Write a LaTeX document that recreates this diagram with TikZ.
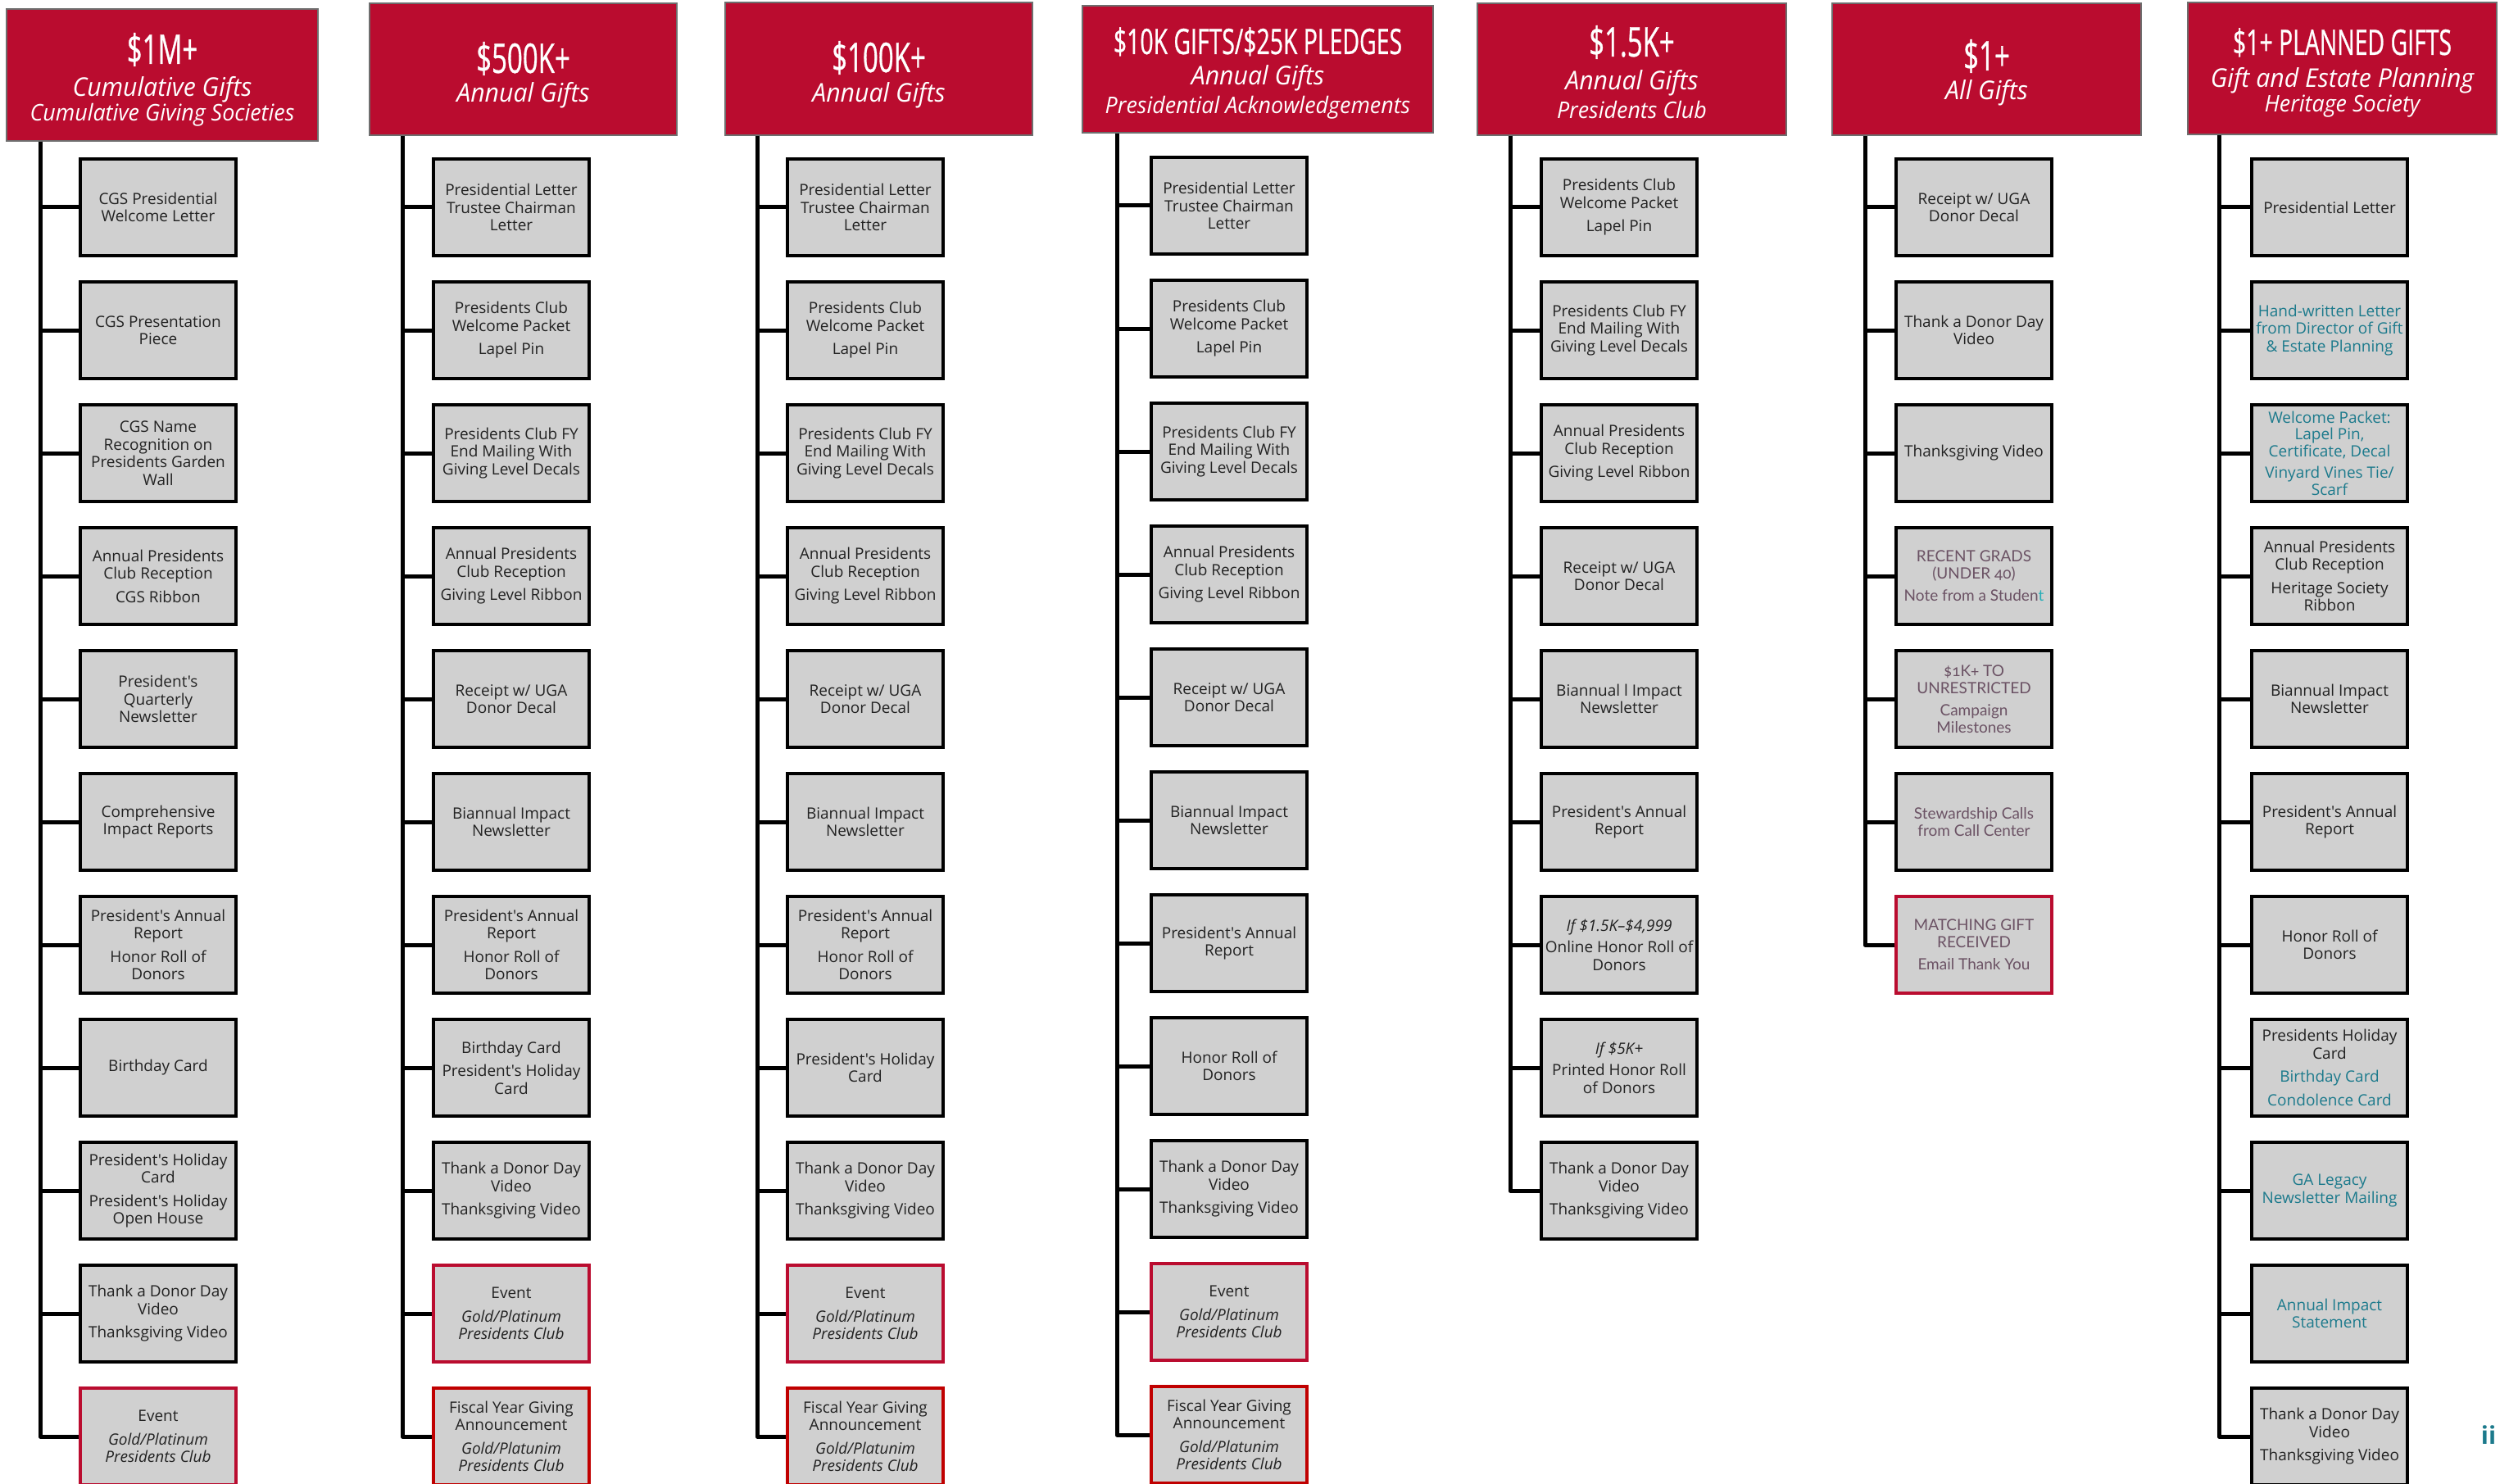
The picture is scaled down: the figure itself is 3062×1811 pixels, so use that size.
\documentclass[tikz,border=0pt]{standalone}
\usepackage{fontspec}
\setmainfont{Open Sans}[Ligatures=TeXOff]
\newfontfamily\bigfont[FakeStretch=0.66, FakeBold=0.6]{Open Sans}
\newfontfamily\hitfont[FakeStretch=0.96]{Open Sans}
\newfontfamily\latofont[Numbers=OldStyle, Ligatures=TeXOff]{Lato}
\definecolor{ugared}{HTML}{BA0C2F}
\definecolor{fyred}{HTML}{C00000}
\definecolor{hdredge}{HTML}{6E6E6E}
\definecolor{boxgray}{HTML}{D0D0D0}
\definecolor{boxtext}{HTML}{222222}
\definecolor{tealtx}{HTML}{1C7A8C}
\definecolor{tealt}{HTML}{27AEB8}
\definecolor{mauve}{HTML}{6B5264}
\newcommand\boxfont{\fontsize{19}{21.5}\selectfont}
\newcommand\latobox{\latofont\fontsize{19}{20.5}\selectfont}
\tikzset{
  item/.style={draw=black, line width=3.5pt, fill=boxgray, minimum width=190pt,
    minimum height=118pt, inner sep=1pt, align=center, text=boxtext, font=\boxfont},
  reditem/.style={item, draw=ugared},
  fyitem/.style={item, draw=fyred},
  tealitem/.style={item, text=tealtx},
  mauveitem/.style={item, text=mauve, font=\latobox},
  hdr/.style={fill=ugared, draw=hdredge, line width=1.2pt, inner sep=0pt},
  hbig/.style={text=white, anchor=base, inner sep=0pt, font=\bigfont\fontsize{50}{50}\selectfont},
  hbigs/.style={text=white, anchor=base, inner sep=0pt, font=\bigfont\fontsize{43}{43}\selectfont},
  hsub/.style={text=white, anchor=base, inner sep=0pt, font=\hitfont\itshape\fontsize{31.5}{31.5}\selectfont},
  hsubs/.style={text=white, anchor=base, inner sep=0pt, font=\hitfont\itshape\fontsize{28}{28}\selectfont},
  trunk/.style={line width=5pt, line join=round, draw=black},
  branch/.style={line width=5pt, draw=black},
}
\begin{document}
\begin{tikzpicture}[x=1pt, y=-1pt]
\useasboundingbox (0,0) rectangle (3062,1811);
\clip (0,0) rectangle (3062,1811);

% ---------------- headers ----------------
\node[hdr, minimum width=380pt, minimum height=161pt] (h1) at (198,91.5) {};
\node[hbig] (h1a) at (198,78) {\$1M+};
\node[hsub] (h1b) at (198,118) {Cumulative Gifts};
\node[hsubs] (h1c) at (198,148) {Cumulative Giving Societies};

\node[hdr, minimum width=375pt, minimum height=161pt] (h2) at (638.5,84.5) {};
\node[hbig] (h2a) at (638.5,89) {\$500K+};
\node[hsub] (h2b) at (638.5,125) {Annual Gifts};

\node[hdr, minimum width=375pt, minimum height=162pt] (h3) at (1072.5,84) {};
\node[hbig] (h3a) at (1072.5,88) {\$100K+};
\node[hsub] (h3b) at (1072.5,125) {Annual Gifts};

\node[hdr, minimum width=428pt, minimum height=155pt] (h4) at (1535,84.5) {};
\node[hbigs] (h4a) at (1535,66) {\$10K GIFTS/\$25K PLEDGES};
\node[hsub] (h4b) at (1535,104) {Annual Gifts};
\node[hsubs] (h4c) at (1535,139) {Presidential Acknowledgements};

\node[hdr, minimum width=377pt, minimum height=161pt] (h5) at (1991.5,84.5) {};
\node[hbig] (h5a) at (1991.5,69) {\$1.5K+};
\node[hsub] (h5b) at (1991.5,110) {Annual Gifts};
\node[hsubs] (h5c) at (1991.5,145) {Presidents Club};

\node[hdr, minimum width=377pt, minimum height=161pt] (h6) at (2424.5,84.5) {};
\node[hbig] (h6a) at (2424.5,86) {\$1+};
\node[hsub] (h6b) at (2424.5,122) {All Gifts};

\node[hdr, minimum width=377pt, minimum height=161pt] (h7) at (2858.5,83.5) {};
\node[hbigs] (h7a) at (2858.5,67) {\$1+ PLANNED GIFTS};
\node[hsub] (h7b) at (2858.5,107) {Gift and Estate Planning};
\node[hsubs] (h7c) at (2858.5,137) {Heritage Society};

% trunk x positions
\coordinate (t1) at (49,0);
\coordinate (t2) at (491,0);
\coordinate (t3) at (924,0);
\coordinate (t4) at (1363,0);
\coordinate (t5) at (1843,0);
\coordinate (t6) at (2276,0);
\coordinate (t7) at (2708,0);

% ---------------- column 1 ----------------
\node[item] (a1) at (193,253) {CGS Presidential\\Welcome Letter};
\node[item] (a2) at (193,403) {CGS Presentation\\Piece};
\node[item] (a3) at (193,553) {CGS Name\\Recognition on\\Presidents Garden\\Wall};
\node[item] (a4) at (193,703) {Annual Presidents\\Club Reception\\[7pt]CGS Ribbon};
\node[item] (a5) at (193,853) {President's\\Quarterly\\Newsletter};
\node[item] (a6) at (193,1003) {Comprehensive\\Impact Reports};
\node[item] (a7) at (193,1153) {President's Annual\\Report\\[7pt]Honor Roll of\\Donors};
\node[item] (a8) at (193,1303) {Birthday Card};
\node[item] (a9) at (193,1453) {President's Holiday\\Card\\[7pt]President's Holiday\\Open House};
\node[item] (a10) at (193,1603) {Thank a Donor Day\\Video\\[7pt]Thanksgiving Video};
\node[reditem] (a11) at (193,1753) {Event\\[7pt]\textit{Gold/Platinum}\\\textit{Presidents Club}};

% ---------------- column 2 ----------------
\node[item] (b1) at (624,253) {Presidential Letter\\Trustee Chairman\\Letter};
\node[item] (b2) at (624,403) {Presidents Club\\Welcome Packet\\[7pt]Lapel Pin};
\node[item] (b3) at (624,553) {Presidents Club FY\\End Mailing With\\Giving Level Decals};
\node[item] (b4) at (624,703) {Annual Presidents\\Club Reception\\[7pt]Giving Level Ribbon};
\node[item] (b5) at (624,853) {Receipt w/ UGA\\Donor Decal};
\node[item] (b6) at (624,1003) {Biannual Impact\\Newsletter};
\node[item] (b7) at (624,1153) {President's Annual\\Report\\[7pt]Honor Roll of\\Donors};
\node[item] (b8) at (624,1303) {Birthday Card\\[7pt]President's Holiday\\Card};
\node[item] (b9) at (624,1453) {Thank a Donor Day\\Video\\[7pt]Thanksgiving Video};
\node[reditem] (b10) at (624,1603) {Event\\[7pt]\textit{Gold/Platinum}\\\textit{Presidents Club}};
\node[fyitem] (b11) at (624,1753) {Fiscal Year Giving\\Announcement\\[7pt]\textit{Gold/Platunim}\\\textit{Presidents Club}};

% ---------------- column 3 ----------------
\node[item] (c1) at (1056,253) {Presidential Letter\\Trustee Chairman\\Letter};
\node[item] (c2) at (1056,403) {Presidents Club\\Welcome Packet\\[7pt]Lapel Pin};
\node[item] (c3) at (1056,553) {Presidents Club FY\\End Mailing With\\Giving Level Decals};
\node[item] (c4) at (1056,703) {Annual Presidents\\Club Reception\\[7pt]Giving Level Ribbon};
\node[item] (c5) at (1056,853) {Receipt w/ UGA\\Donor Decal};
\node[item] (c6) at (1056,1003) {Biannual Impact\\Newsletter};
\node[item] (c7) at (1056,1153) {President's Annual\\Report\\[7pt]Honor Roll of\\Donors};
\node[item] (c8) at (1056,1303) {President's Holiday\\Card};
\node[item] (c9) at (1056,1453) {Thank a Donor Day\\Video\\[7pt]Thanksgiving Video};
\node[reditem] (c10) at (1056,1603) {Event\\[7pt]\textit{Gold/Platinum}\\\textit{Presidents Club}};
\node[fyitem] (c11) at (1056,1753) {Fiscal Year Giving\\Announcement\\[7pt]\textit{Gold/Platunim}\\\textit{Presidents Club}};

% ---------------- column 4 ----------------
\node[item] (d1) at (1500,251) {Presidential Letter\\Trustee Chairman\\Letter};
\node[item] (d2) at (1500,401) {Presidents Club\\Welcome Packet\\[7pt]Lapel Pin};
\node[item] (d3) at (1500,551) {Presidents Club FY\\End Mailing With\\Giving Level Decals};
\node[item] (d4) at (1500,701) {Annual Presidents\\Club Reception\\[7pt]Giving Level Ribbon};
\node[item] (d5) at (1500,851) {Receipt w/ UGA\\Donor Decal};
\node[item] (d6) at (1500,1001) {Biannual Impact\\Newsletter};
\node[item] (d7) at (1500,1151) {President's Annual\\Report};
\node[item] (d8) at (1500,1301) {Honor Roll of\\Donors};
\node[item] (d9) at (1500,1451) {Thank a Donor Day\\Video\\[7pt]Thanksgiving Video};
\node[reditem] (d10) at (1500,1601) {Event\\[7pt]\textit{Gold/Platinum}\\\textit{Presidents Club}};
\node[fyitem] (d11) at (1500,1751) {Fiscal Year Giving\\Announcement\\[7pt]\textit{Gold/Platunim}\\\textit{Presidents Club}};

% ---------------- column 5 ----------------
\node[item] (e1) at (1976,253) {Presidents Club\\Welcome Packet\\[7pt]Lapel Pin};
\node[item] (e2) at (1976,403) {Presidents Club FY\\End Mailing With\\Giving Level Decals};
\node[item] (e3) at (1976,553) {Annual Presidents\\Club Reception\\[7pt]Giving Level Ribbon};
\node[item] (e4) at (1976,703) {Receipt w/ UGA\\Donor Decal};
\node[item] (e5) at (1976,853) {Biannual l Impact\\Newsletter};
\node[item] (e6) at (1976,1003) {President's Annual\\Report};
\node[item] (e7) at (1976,1153) {\textit{If \$1.5K–\$4,999}\\[5pt]Online Honor Roll of\\Donors};
\node[item] (e8) at (1976,1303) {\textit{If \$5K+}\\[5pt]Printed Honor Roll\\of Donors};
\node[item] (e9) at (1976,1453) {Thank a Donor Day\\Video\\[7pt]Thanksgiving Video};

% ---------------- column 6 ----------------
\node[item] (f1) at (2409,253) {Receipt w/ UGA\\Donor Decal};
\node[item] (f2) at (2409,403) {Thank a Donor Day\\Video};
\node[item] (f3) at (2409,553) {Thanksgiving Video};
\node[mauveitem] (f4) at (2409,703) {RECENT GRADS\\(UNDER 40)\\[7pt]Note from a Studen{\color{tealt}t}};
\node[mauveitem] (f5) at (2409,853) {\$1K+ TO\\UNRESTRICTED\\[7pt]Campaign\\Milestones};
\node[mauveitem] (f6) at (2409,1003) {Stewardship Calls\\from Call Center};
\node[mauveitem, draw=ugared] (f7) at (2409,1153) {MATCHING GIFT\\RECEIVED\\[7pt]Email Thank You};

% ---------------- column 7 ----------------
\node[item] (g1) at (2843,253) {Presidential Letter};
\node[tealitem] (g2) at (2843,403) {Hand-written Letter\\from Director of Gift\\\& Estate Planning};
\node[tealitem, font=\fontsize{19}{20.5}\selectfont] (g3) at (2843,553) {Welcome Packet:\\Lapel Pin,\\Certificate, Decal\\[6pt]Vinyard Vines Tie/\\Scarf};
\node[item] (g4) at (2843,703) {Annual Presidents\\Club Reception\\[7pt]Heritage Society\\Ribbon};
\node[item] (g5) at (2843,853) {Biannual Impact\\Newsletter};
\node[item] (g6) at (2843,1003) {President's Annual\\Report};
\node[item] (g7) at (2843,1153) {Honor Roll of\\Donors};
\node[item] (g8) at (2843,1303) {Presidents Holiday\\Card\\[7pt]{\color{tealtx}Birthday Card}\\[7pt]{\color{tealtx}Condolence Card}};
\node[tealitem] (g9) at (2843,1453) {GA Legacy\\Newsletter Mailing};
\node[tealitem] (g10) at (2843,1603) {Annual Impact\\Statement};
\node[item] (g11) at (2843,1753) {Thank a Donor Day\\Video\\[7pt]Thanksgiving Video};

\node[text=tealtx, anchor=base, inner sep=0pt, font=\bfseries\fontsize{30}{30}\selectfont] (pg) at (3037,1762) {ii};

% ---------------- connectors ----------------
\draw[trunk] (h1.south -| t1) |- (a11.west);
\foreach \i in {1,...,10} \draw[branch] (a\i.west -| t1) -- (a\i.west);
\draw[trunk] (h2.south -| t2) |- (b11.west);
\foreach \i in {1,...,10} \draw[branch] (b\i.west -| t2) -- (b\i.west);
\draw[trunk] (h3.south -| t3) |- (c11.west);
\foreach \i in {1,...,10} \draw[branch] (c\i.west -| t3) -- (c\i.west);
\draw[trunk] (h4.south -| t4) |- (d11.west);
\foreach \i in {1,...,10} \draw[branch] (d\i.west -| t4) -- (d\i.west);
\draw[trunk] (h5.south -| t5) |- (e9.west);
\foreach \i in {1,...,8} \draw[branch] (e\i.west -| t5) -- (e\i.west);
\draw[trunk] (h6.south -| t6) |- (f7.west);
\foreach \i in {1,...,6} \draw[branch] (f\i.west -| t6) -- (f\i.west);
\draw[trunk] (h7.south -| t7) |- (g11.west);
\foreach \i in {1,...,10} \draw[branch] (g\i.west -| t7) -- (g\i.west);
\end{tikzpicture}
\end{document}
